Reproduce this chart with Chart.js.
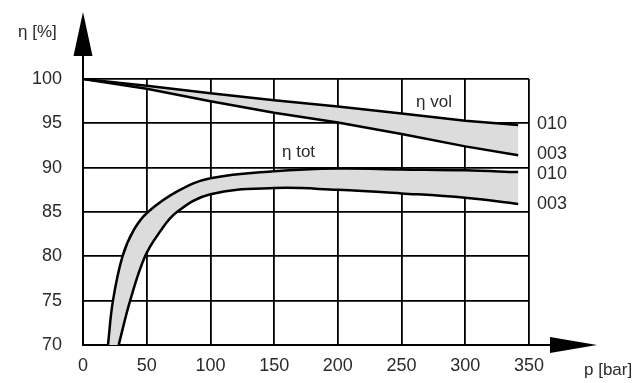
<!DOCTYPE html>
<html>
<head>
<meta charset="utf-8">
<script src="https://cdn.jsdelivr.net/npm/chart.js@4/dist/chart.umd.min.js"></script>
<style>
  html, body { margin: 0; padding: 0; background: #fff; }
  #wrap { width: 640px; height: 383px; position: relative; }
</style>
</head>
<body>
<div id="wrap"><canvas id="eta"></canvas></div>
<script>
// pressure (bar) and efficiency (%) curves
const pVol = [0, 50, 100, 150, 200, 250, 300, 341.5]
const volHigh = [100, 99.25, 98.4, 97.6, 96.9, 96.1, 95.3, 94.8]   // 010
const volLow = [100, 98.9, 97.5, 96.2, 95.1, 93.8, 92.4, 91.4]     // 003

const pTotHigh = [19.6, 23.5, 31, 40, 51, 75, 100, 150, 200, 250, 300, 341.5]
const totHigh = [70, 75, 80, 83, 85, 87.4, 88.8, 89.6, 89.9, 89.8, 89.7, 89.5]  // 010
const pTotLow = [28, 37, 48.7, 60, 73.7, 100, 150, 200, 250, 300, 341.5]
const totLow = [70, 75, 80, 82.7, 85, 87.0, 87.7, 87.5, 87.1, 86.6, 85.9]       // 003

const xTicks = [0, 50, 100, 150, 200, 250, 300, 350]
const yTicks = [70, 75, 80, 85, 90, 95, 100]
const endLabels = ['010', '003', '010', '003']

const FONT = '"Liberation Sans", Arial, sans-serif'
const TXT = '#2a2a2a'
const TENSION = 0.4

const pts = (xs, ys) => xs.map((x, i) => ({x: x, y: ys[i]}))

// closed band: upper curve forward, lower curve back.
// the corner points are doubled so the spline keeps the same
// shape as the single curves right up to the ends
function band(xa, ya, xb, yb) {
    const up = pts(xa, ya)
    const down = pts(xb, yb).reverse()
    return [up[0]].concat(up, [up[up.length - 1]], [down[0]], down, [down[down.length - 1]])
}

const curve = (data, tension) => ({
    data: data,
    showLine: true,
    borderColor: '#000',
    borderWidth: 2.5,
    pointRadius: 0,
    tension: tension,
    fill: false,
    order: 1
})

const shade = (data, tension) => ({
    data: data,
    showLine: true,
    borderWidth: 0,
    borderColor: 'rgba(0,0,0,0)',
    backgroundColor: '#dcdcdc',
    pointRadius: 0,
    tension: tension,
    fill: 'shape',
    order: 5
})

// arrows, axis names and curve names
const deko = {
    id: 'deko',
    afterDraw(chart) {
        const c = chart.ctx
        const a = chart.chartArea
        const ys = chart.scales.y
        c.save()
        c.strokeStyle = '#000'
        c.fillStyle = '#000'
        c.lineWidth = 2
        // y axis arrow
        c.beginPath()
        c.moveTo(a.left, a.top)
        c.lineTo(a.left, 50)
        c.stroke()
        c.beginPath()
        c.moveTo(a.left, 12)
        c.lineTo(a.left - 9.5, 56)
        c.lineTo(a.left + 9.5, 56)
        c.closePath()
        c.fill()
        // x axis arrow
        c.beginPath()
        c.moveTo(a.right, a.bottom)
        c.lineTo(556, a.bottom)
        c.stroke()
        c.beginPath()
        c.moveTo(597, a.bottom)
        c.lineTo(550, a.bottom - 8)
        c.lineTo(550, a.bottom + 8)
        c.closePath()
        c.fill()

        c.fillStyle = TXT
        c.font = '17px ' + FONT
        c.textBaseline = 'middle'
        c.textAlign = 'left'
        c.fillText('η [%]', 18, 32)
        c.fillText('p [bar]', 584, 370)
        c.fillText('η vol', 416, 102)
        c.fillText('η tot', 282, 152)

        c.font = '18px ' + FONT
        const ends = [volHigh, volLow, totHigh, totLow]
        const dy = [-1, -1, 2, 0]
        ends.forEach((arr, i) => {
            c.fillText(endLabels[i], 537, ys.getPixelForValue(arr[arr.length - 1]) + dy[i])
        })
        c.restore()
    }
}

new Chart(document.getElementById('eta'), {
    type: 'scatter',
    data: {
        datasets: [
            shade(band(pVol, volHigh, pVol, volLow), 0),
            shade(band(pTotHigh, totHigh, pTotLow, totLow), TENSION),
            curve(pts(pVol, volHigh), 0),
            curve(pts(pVol, volLow), 0),
            curve(pts(pTotHigh, totHigh), TENSION),
            curve(pts(pTotLow, totLow), TENSION)
        ]
    },
    options: {
        responsive: true,
        maintainAspectRatio: false,
        animation: false,
        events: [],
        layout: { padding: { left: 0, top: 79, right: 111, bottom: 0 } },
        plugins: {
            legend: { display: false },
            tooltip: { enabled: false }
        },
        scales: {
            x: {
                type: 'linear',
                min: 0,
                max: 350,
                z: 1,
                afterFit: s => { s.height = 38 },
                afterBuildTicks: s => { s.ticks = xTicks.map(v => ({value: v})) },
                grid: { color: '#000', lineWidth: 1.8, drawTicks: false },
                border: { color: '#000', width: 2 },
                ticks: { color: TXT, padding: 10, font: { family: FONT, size: 18 } }
            },
            y: {
                type: 'linear',
                min: 70,
                max: 100,
                z: 1,
                afterFit: s => { s.width = 83 },
                afterBuildTicks: s => { s.ticks = yTicks.map(v => ({value: v})) },
                grid: { color: '#000', lineWidth: 1.8, drawTicks: false },
                border: { color: '#000', width: 2 },
                ticks: { color: TXT, padding: 21, font: { family: FONT, size: 18 } }
            }
        }
    },
    plugins: [deko]
})
</script>
</body>
</html>
